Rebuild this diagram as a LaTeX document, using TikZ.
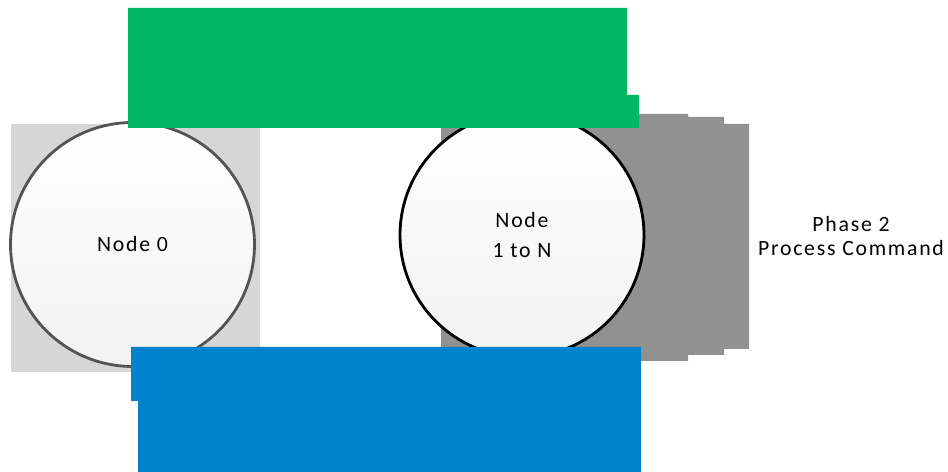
\documentclass[tikz,border=0pt]{standalone}
\usepackage{fontspec}
\setmainfont{Carlito}[LetterSpace=8]
\usepackage{tikz}

\definecolor{cmdgreen}{RGB}{0,184,98}
\definecolor{cmdblue}{RGB}{0,131,203}

\begin{document}
\begin{tikzpicture}[x=0.02cm, y=0.02cm]
\tikzstyle{every node}+=[inner sep=0pt, font=\fontsize{12.4}{14.2}\selectfont]
\tikzstyle{site}=[circle, minimum size=4.88cm, line width=1.6pt, top color=white, bottom color=black!5, align=center]
\useasboundingbox (0,0) rectangle (948,-472);
\fill [black!16] (11,-124) rectangle (260,-372);
\fill [black!43] (441,-114) -- (688,-114) -- (688,-117) -- (724,-117) -- (724,-124) -- (749,-124)
  -- (749,-349) -- (724,-349) -- (724,-355) -- (688,-355) -- (688,-361) -- (441,-361) -- cycle;
\node [site, draw=black!67] (node0) at (132.5,-244.5) {Node 0};
\node [site, draw=black] (nodeN) at (522,-235) {Node\\[3.4pt]1 to N};
\node [align=center] (phase2) at (851,-236) {Phase 2\\Process Command};
\fill [cmdgreen] (128,-8) -- (627,-8) -- (627,-95) -- (639,-95) -- (639,-128) -- (128,-128) -- cycle;
\fill [cmdblue] (131,-347) -- (641,-347) -- (641,-472) -- (138,-472) -- (138,-401) -- (131,-401) -- cycle;
\end{tikzpicture}
\end{document}
